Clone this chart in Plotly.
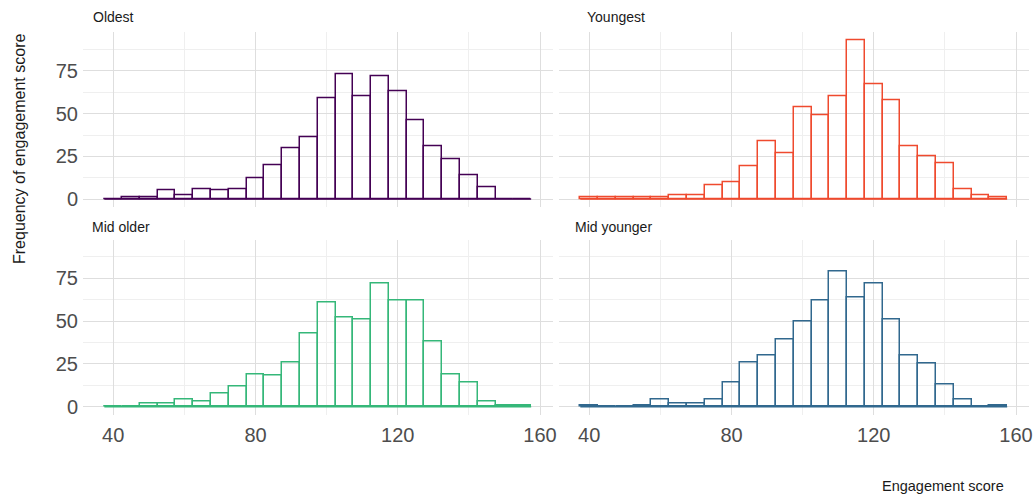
import plotly.graph_objects as go

# ---- data ----
bin_width = 5
bin_centers = [40, 45, 50, 55, 60, 65, 70, 75, 80, 85, 90, 95,
               100, 105, 110, 115, 120, 125, 130, 135, 140, 145, 150, 155]
panel_names = ["Oldest", "Youngest", "Mid older", "Mid younger"]
oldest = [0, 1, 1, 5, 2, 6, 5, 6, 12, 20, 30, 36, 59, 73, 60, 72, 63, 46, 31, 23, 14, 7, 0, 0]
youngest = [1, 1, 1, 1, 1, 2, 2, 8, 10, 19, 34, 27, 54, 49, 60, 93, 67, 58, 31, 25, 21, 6, 2, 1]
mid_older = [0, 0, 2, 2, 4, 3, 8, 12, 19, 18, 26, 43, 61, 52, 51, 72, 62, 62, 38, 19, 14, 3, 1, 1]
mid_younger = [1, 0, 0, 1, 4, 2, 2, 4, 14, 26, 30, 39, 50, 62, 79, 64, 72, 51, 30, 25, 13, 4, 0, 1]
colors = ["#440154", "#EF4A2E", "#35B779", "#31688E"]
x_ticks = [40, 80, 120, 160]
y_ticks = [0, 25, 50, 75]

series = [oldest, youngest, mid_older, mid_younger]

W, H = 1033, 497
# panel pixel boxes (left, right, top, bottom)
px_x = [(83, 552.5), (559, 1028.5)]
px_y = [(32.3, 207), (239.5, 414.7)]

edge_lo = bin_centers[0] - bin_width / 2
edge_hi = bin_centers[-1] + bin_width / 2
span = edge_hi - edge_lo
x_range = [edge_lo - 0.05 * span, edge_hi + 0.05 * span]
ymax = max(max(s) for s in series)
y_range = [-0.05 * ymax, ymax * 1.05]

fig = go.Figure()
font_family = "Liberation Sans, Arial, sans-serif"
layout = dict(
    width=W, height=H, margin=dict(l=0, r=0, t=0, b=0, autoexpand=False),
    plot_bgcolor="white", paper_bgcolor="white", showlegend=False,
    font=dict(family=font_family),
)
annotations = []
for i, (name, vals, col) in enumerate(zip(panel_names, series, colors)):
    row, c = divmod(i, 2)
    k = "" if i == 0 else str(i + 1)
    xa, ya = "x" + k, "y" + k
    fig.add_trace(go.Scatter(
        x=[edge_lo, edge_hi], y=[0, 0], mode="lines",
        line=dict(color=col, width=1.5), xaxis=xa, yaxis=ya, hoverinfo="skip"))
    fig.add_trace(go.Bar(
        x=bin_centers, y=vals, width=bin_width,
        marker=dict(color="rgba(0,0,0,0)", line=dict(color=col, width=1.5)),
        xaxis=xa, yaxis=ya))
    l, r = px_x[c]
    t, b = px_y[row]
    layout["xaxis" + k] = dict(
        domain=[l / W, r / W], range=x_range, anchor=ya, automargin=False,
        tickvals=x_ticks, showticklabels=(row == 1),
        showgrid=True, gridcolor="#dedede", gridwidth=1, zeroline=False,
        minor=dict(dtick=20, tick0=0, showgrid=True, gridcolor="#efefef", gridwidth=1),
        tickfont=dict(size=20, color="#4d4d4d"), ticks="", ticklabelstandoff=6,
        showline=False)
    layout["yaxis" + k] = dict(
        domain=[1 - b / H, 1 - t / H], range=y_range, anchor=xa, automargin=False,
        tickvals=y_ticks, showticklabels=(c == 0),
        showgrid=True, gridcolor="#dedede", gridwidth=1, zeroline=False,
        minor=dict(dtick=12.5, tick0=0, showgrid=True, gridcolor="#efefef", gridwidth=1),
        tickfont=dict(size=20, color="#4d4d4d"), ticks="", ticklabelstandoff=4,
        showline=False)

strip_pos = [(91, 17), (585, 17), (90, 227), (573, 227)]
for name, (sx, sy) in zip(panel_names, strip_pos):
    annotations.append(dict(
        text=name, x=sx / W, y=1 - sy / H, xref="paper", yref="paper",
        xanchor="left", yanchor="middle", showarrow=False,
        font=dict(size=14, color="#1a1a1a", family=font_family)))
annotations.append(dict(
    text="Frequency of engagement score", x=19 / W, y=1 - 149 / H,
    xref="paper", yref="paper", xanchor="center", yanchor="middle",
    textangle=-90, showarrow=False, font=dict(size=16, color="#1a1a1a")))
annotations.append(dict(
    text="Engagement score", x=1006 / W, y=1 - 486 / H,
    xref="paper", yref="paper", xanchor="right", yanchor="middle",
    showarrow=False, font=dict(size=14.5, color="#1a1a1a")))
layout["annotations"] = annotations
layout["bargap"] = 0
fig.update_layout(**layout)
fig.write_html(
    "out.html",
    config={"displayModeBar": False},
    post_script="document.body.style.margin='0';document.body.style.overflow='hidden';",
)
